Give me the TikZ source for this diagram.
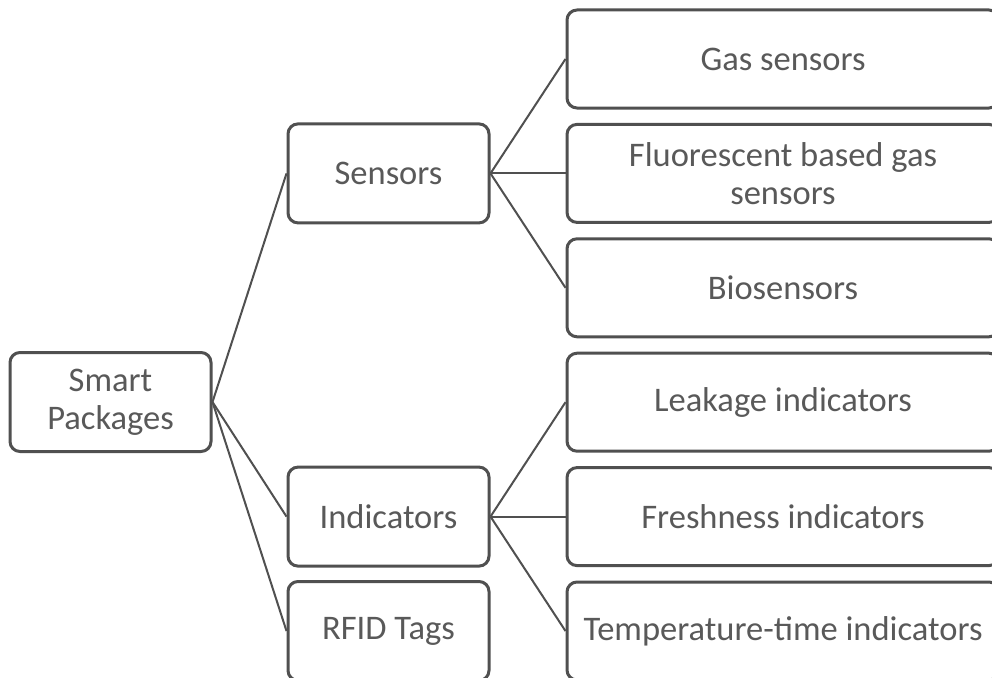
\documentclass[tikz,border=0pt]{standalone}
\usepackage{fontspec}
\setmainfont{Carlito}
\definecolor{edgecol}{RGB}{80,80,80}
\definecolor{txtcol}{RGB}{89,89,89}
\tikzset{
  box/.style={draw=edgecol, line width=3pt, rounded corners=10pt, fill=white,
    text=txtcol, inner sep=0pt, align=center,
    font=\fontsize{34.5}{38}\selectfont},
  leftbox/.style={box, minimum width=201pt, minimum height=99pt},
  rightbox/.style={box, minimum width=432pt, minimum height=98pt},
  link/.style={draw=edgecol, line width=2pt}
}
\begin{document}
\begin{tikzpicture}[x=1pt,y=-1pt]
\clip (0,0) rectangle (992,677);
\fill[white] (0,0) rectangle (992,677);
% left column
\node[leftbox] (sp) at (110.5,402) {Smart\\Packages};
% middle column
\node[leftbox] (sen) at (388.5,173.4) {Sensors};
\node[leftbox] (ind) at (388.5,516.6) {Indicators};
\node[leftbox] (rfid) at (388.5,631) {RFID Tags};
% right column
\node[rightbox] (gas) at (783,59) {Gas sensors};
\node[rightbox] (flu) at (783,173.4) {Fluorescent based gas\\sensors};
\node[rightbox] (bio) at (783,287.8) {Biosensors};
\node[rightbox] (leak) at (783,402.2) {Leakage indicators};
\node[rightbox] (fresh) at (783,516.6) {Freshness indicators};
\node[rightbox] (temp) at (783,631) {Temperature-time indicators};
% connectors
\draw[link] (sp.east) -- (sen.west);
\draw[link] (sp.east) -- (ind.west);
\draw[link] (sp.east) -- (rfid.west);
\draw[link] (sen.east) -- (gas.west);
\draw[link] (sen.east) -- (flu.west);
\draw[link] (sen.east) -- (bio.west);
\draw[link] (ind.east) -- (leak.west);
\draw[link] (ind.east) -- (fresh.west);
\draw[link] (ind.east) -- (temp.west);
\end{tikzpicture}
\end{document}
